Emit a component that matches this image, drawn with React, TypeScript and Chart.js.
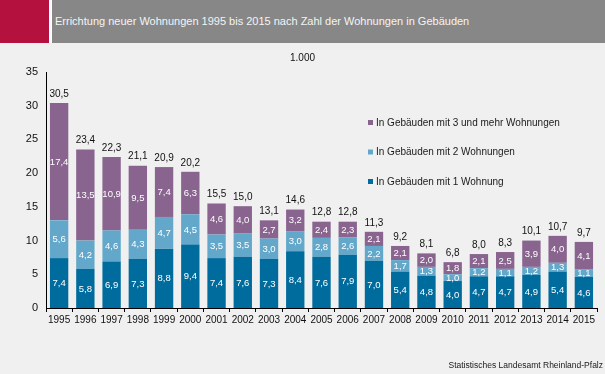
import React, { useEffect, useRef } from "react";
import { Chart, registerables } from "chart.js";

Chart.register(...registerables);

const years = ["1995","1996","1997","1998","1999","2000","2001","2002","2003","2004","2005","2006","2007","2008","2009","2010","2011","2012","2013","2014","2015"];
const oneFlat = [7.4, 5.8, 6.9, 7.3, 8.8, 9.4, 7.4, 7.6, 7.3, 8.4, 7.6, 7.9, 7.0, 5.4, 4.8, 4.0, 4.7, 4.7, 4.9, 5.4, 4.6];
const twoFlats = [5.6, 4.2, 4.6, 4.3, 4.7, 4.5, 3.5, 3.5, 3.0, 3.0, 2.8, 2.6, 2.2, 1.7, 1.3, 1.0, 1.2, 1.1, 1.2, 1.3, 1.1];
const threePlus = [17.4, 13.5, 10.9, 9.5, 7.4, 6.3, 4.6, 4.0, 2.7, 3.2, 2.4, 2.3, 2.1, 2.1, 2.0, 1.8, 2.1, 2.5, 3.9, 4.0, 4.1];
const totals = [30.5, 23.4, 22.3, 21.1, 20.9, 20.2, 15.5, 15.0, 13.1, 14.6, 12.8, 12.8, 11.3, 9.2, 8.1, 6.8, 8.0, 8.3, 10.1, 10.7, 9.7];
const seriesLabels = ["In Gebäuden mit 1 Wohnung", "In Gebäuden mit 2 Wohnungen", "In Gebäuden mit 3 und mehr Wohnungen"];
const seriesColors = ["#006c9e", "#63a8ca", "#89648f"];
const unitLabel = "1.000";
const titleText = "Errichtung neuer Wohnungen 1995 bis 2015 nach Zahl der Wohnungen in Gebäuden";
const sourceText = "Statistisches Landesamt Rheinland-Pfalz";

const FONT = "'Liberation Sans', Arial, sans-serif";
const fmt = (v: number) => v.toFixed(1).replace(".", ",");

const labelPlugin = {
  id: "customLabels",
  beforeDraw(chart: any) {
    const ctx = chart.ctx;
    ctx.save();
    ctx.fillStyle = "#eff0ef";
    ctx.fillRect(0, 0, chart.width, chart.height);
    ctx.restore();
  },
  afterDatasetsDraw(chart: any) {
    const ctx = chart.ctx;
    ctx.save();
    ctx.textAlign = "center";
    ctx.textBaseline = "middle";
    ctx.font = `9.5px ${FONT}`;
    ctx.fillStyle = "#ffffff";
    chart.data.datasets.forEach((ds: any, i: number) => {
      const meta = chart.getDatasetMeta(i);
      meta.data.forEach((bar: any, j: number) => {
        const p = bar.getProps(["x", "y", "base"], true);
        ctx.fillText(fmt(ds.data[j]), p.x, (p.y + p.base) / 2 + 0.5);
      });
    });
    const top = chart.getDatasetMeta(chart.data.datasets.length - 1);
    ctx.fillStyle = "#111111";
    ctx.font = `10px ${FONT}`;
    top.data.forEach((bar: any, j: number) => {
      const p = bar.getProps(["x", "y"], true);
      ctx.fillText(fmt(totals[j]), p.x, p.y - 9);
    });
    ctx.restore();
  },
  afterDraw(chart: any) {
    const ctx = chart.ctx;
    ctx.save();
    ctx.textBaseline = "middle";
    ctx.fillStyle = "#111111";
    ctx.font = `10px ${FONT}`;
    ctx.textAlign = "center";
    ctx.fillText(unitLabel, chart.width / 2, 58);
    // legend (reverse order)
    const n = chart.data.datasets.length;
    const lx = 368;
    const ly0 = 123;
    const gap = 29.5;
    for (let k = 0; k < n; k++) {
      const ds = chart.data.datasets[n - 1 - k];
      const y = ly0 + k * gap;
      ctx.fillStyle = ds.backgroundColor;
      ctx.fillRect(lx, y - 3, 5, 5);
      ctx.fillStyle = "#1a1a1a";
      ctx.textAlign = "left";
      ctx.fillText(ds.label, lx + 8, y);
    }
    ctx.font = `8.5px ${FONT}`;
    ctx.textAlign = "right";
    ctx.fillStyle = "#1a1a1a";
    ctx.fillText(sourceText, chart.width - 2, 366);
    ctx.restore();
  },
};

export default function App() {
  const ref = useRef<HTMLCanvasElement>(null);
  useEffect(() => {
    document.body.style.margin = "0";
    if (!ref.current) return;
    const chart = new Chart(ref.current, {
      type: "bar",
      data: {
        labels: years,
        datasets: [
          { label: seriesLabels[0], data: oneFlat, backgroundColor: seriesColors[0] },
          { label: seriesLabels[1], data: twoFlats, backgroundColor: seriesColors[1] },
          { label: seriesLabels[2], data: threePlus, backgroundColor: seriesColors[2] },
        ],
      },
      options: {
        responsive: false,
        animation: false,
        devicePixelRatio: 1,
        layout: { padding: { top: 72, left: 0, right: 8, bottom: 0 } },
        datasets: { bar: { categoryPercentage: 1, barPercentage: 0.7 } },
        plugins: { legend: { display: false }, tooltip: { enabled: false }, title: { display: false } },
        scales: {
          x: {
            stacked: true,
            afterFit: (s: any) => { s.height = 66; },
            grid: { display: true, drawOnChartArea: false, drawTicks: true, tickLength: 4, color: "#000", offset: true },
            border: { display: true, color: "#000", width: 1 },
            ticks: { color: "#111", padding: 2, font: { family: FONT, size: 10 }, maxRotation: 0, autoSkip: false },
          },
          y: {
            stacked: true,
            min: 0,
            max: 35,
            afterFit: (s: any) => { s.width = 46; },
            grid: { display: false, drawTicks: false },
            border: { display: true, color: "#000", width: 1 },
            ticks: { stepSize: 5, color: "#111", padding: 8, font: { family: FONT, size: 11 } },
          },
        },
      },
      plugins: [labelPlugin],
    });
    return () => chart.destroy();
  }, []);
  return (
    <div style={{ position: "absolute", left: 0, top: 0, width: 605, height: 374, background: "#eff0ef", fontFamily: FONT }}>
      <canvas ref={ref} width={605} height={374} style={{ position: "absolute", left: 0, top: 0, width: 605, height: 374 }} />
      <div style={{ position: "absolute", left: 0, top: 0, width: 49, height: 43, background: "#b5113e" }} />
      <div style={{ position: "absolute", left: 49, top: 0, width: 3, height: 43, background: "#ffffff" }} />
      <div style={{ position: "absolute", left: 52, top: 0, width: 553, height: 43, background: "#878787", color: "#f4f4f4", fontSize: 11, lineHeight: "43px", paddingLeft: 3, boxSizing: "border-box", whiteSpace: "nowrap" }}>
        {titleText}
      </div>
    </div>
  );
}
